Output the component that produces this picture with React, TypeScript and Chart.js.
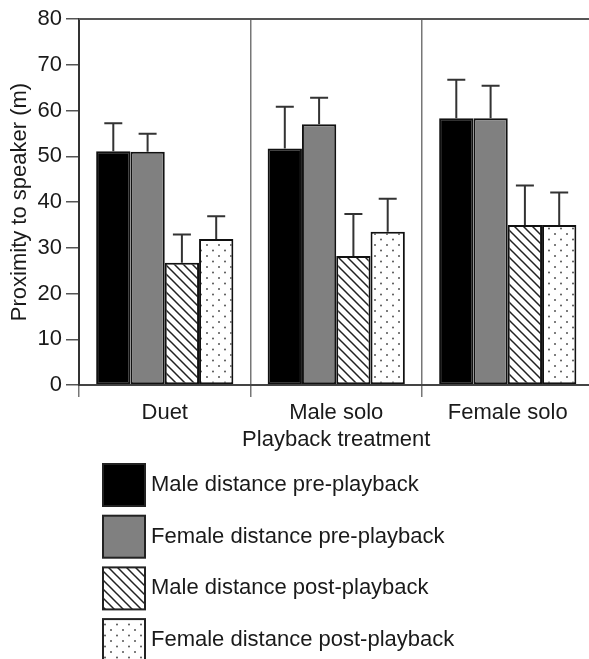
import React, { useEffect, useRef } from "react";
import { Chart, registerables } from "chart.js";

Chart.register(...registerables);

// ---- Data ----
const categories = ["Duet", "Male solo", "Female solo"];
const seriesLabels = [
  "Male distance pre-playback",
  "Female distance pre-playback",
  "Male distance post-playback",
  "Female distance post-playback",
];
const malePre = [51.1, 51.7, 58.3];
const femalePre = [51.0, 57.0, 58.3];
const malePost = [26.7, 28.2, 35.0];
const femalePost = [31.9, 33.5, 35.0];
const malePreErr = [6.1, 9.1, 8.4];
const femalePreErr = [3.9, 5.8, 7.1];
const malePostErr = [6.2, 9.2, 8.6];
const femalePostErr = [5.0, 7.2, 7.1];
const yMin = 0;
const yMax = 80;
const yStep = 10;
const xTitle = "Playback treatment";
const yTitle = "Proximity to speaker (m)";

const FONT = "'Liberation Sans', Arial, Helvetica, sans-serif";

function makeHatch(): CanvasPattern | string {
  const s = 9;
  const c = document.createElement("canvas");
  c.width = s;
  c.height = s;
  const g = c.getContext("2d");
  if (!g) return "#fff";
  g.fillStyle = "#fff";
  g.fillRect(0, 0, s, s);
  g.strokeStyle = "#222";
  g.lineWidth = 1.5;
  g.beginPath();
  g.moveTo(-s, -s);
  g.lineTo(2 * s, 2 * s);
  g.moveTo(-s, 0);
  g.lineTo(s, 2 * s);
  g.moveTo(0, -s);
  g.lineTo(2 * s, s);
  g.stroke();
  return g.createPattern(c, "repeat") || "#fff";
}

function makeDots(): CanvasPattern | string {
  const w = 12;
  const h = 11;
  const c = document.createElement("canvas");
  c.width = w;
  c.height = h;
  const g = c.getContext("2d");
  if (!g) return "#fff";
  g.fillStyle = "#fff";
  g.fillRect(0, 0, w, h);
  g.fillStyle = "#555";
  g.beginPath();
  g.arc(3, 3, 1, 0, Math.PI * 2);
  g.fill();
  g.beginPath();
  g.arc(9, 8.5, 1, 0, Math.PI * 2);
  g.fill();
  return g.createPattern(c, "repeat") || "#fff";
}

const errorBarPlugin = {
  id: "errorBars",
  afterDatasetsDraw(chart: any) {
    const ctx = chart.ctx;
    const yScale = chart.scales.y;
    chart.data.datasets.forEach((ds: any, i: number) => {
      const meta = chart.getDatasetMeta(i);
      meta.data.forEach((bar: any, j: number) => {
        const v = ds.data[j];
        const e = ds.errors[j];
        const top = yScale.getPixelForValue(v + e);
        ctx.save();
        ctx.strokeStyle = "#333";
        ctx.lineWidth = 2;
        ctx.beginPath();
        ctx.moveTo(bar.x, bar.y);
        ctx.lineTo(bar.x, top);
        ctx.moveTo(bar.x - 9, top);
        ctx.lineTo(bar.x + 9, top);
        ctx.stroke();
        ctx.restore();
      });
    });
  },
};

const frameAndLegendPlugin = {
  id: "frameAndLegend",
  afterDraw(chart: any) {
    const ctx = chart.ctx;
    const area = chart.chartArea;
    ctx.save();
    // top frame line
    ctx.strokeStyle = "#555";
    ctx.lineWidth = 2;
    ctx.beginPath();
    ctx.moveTo(area.left, area.top);
    ctx.lineTo(area.right, area.top);
    ctx.stroke();

    // legend
    const boxX = 103;
    const boxY0 = 464;
    const gap = 51.7;
    const size = 42;
    ctx.font = `22px ${FONT}`;
    ctx.textBaseline = "middle";
    ctx.textAlign = "left";
    chart.data.datasets.forEach((ds: any, i: number) => {
      const y = boxY0 + i * gap;
      ctx.fillStyle = ds.backgroundColor;
      ctx.fillRect(boxX, y, size, size);
      ctx.strokeStyle = "#222";
      ctx.lineWidth = 2;
      ctx.strokeRect(boxX, y, size, size);
      ctx.fillStyle = "#1a1a1a";
      ctx.fillText(ds.label, 151, y + size / 2);
    });
    ctx.restore();
  },
};

export default function App() {
  const ref = useRef<HTMLCanvasElement | null>(null);

  useEffect(() => {
    if (!ref.current) return;
    const hatch = makeHatch();
    const dots = makeDots();
    const chart = new Chart(ref.current, {
      type: "bar",
      data: {
        labels: categories,
        datasets: [
          { label: seriesLabels[0], data: malePre, errors: malePreErr, backgroundColor: "#000000" } as any,
          { label: seriesLabels[1], data: femalePre, errors: femalePreErr, backgroundColor: "#808080" } as any,
          { label: seriesLabels[2], data: malePost, errors: malePostErr, backgroundColor: hatch } as any,
          { label: seriesLabels[3], data: femalePost, errors: femalePostErr, backgroundColor: dots } as any,
        ],
      },
      options: {
        animation: false,
        responsive: false,
        devicePixelRatio: 1,
        layout: { padding: { top: 19, right: 6.5, bottom: 204, left: 0 } },
        datasets: {
          bar: {
            categoryPercentage: 0.8,
            barPercentage: 1.0,
            borderColor: "#111",
            borderWidth: 2,
            borderSkipped: false,
          },
        },
        plugins: {
          legend: { display: false },
          tooltip: { enabled: false },
        },
        scales: {
          x: {
            offset: true,
            afterFit(scale: any) {
              scale.height = 70;
            },
            grid: {
              offset: true,
              drawOnChartArea: true,
              drawTicks: true,
              tickLength: 12,
              color: "#777",
              lineWidth: 1.5,
            },
            border: { display: true, color: "#444", width: 2 },
            ticks: {
              color: "#1a1a1a",
              font: { family: FONT, size: 22 },
              padding: 3,
              maxRotation: 0,
            },
            title: {
              display: true,
              text: xTitle,
              color: "#1a1a1a",
              font: { family: FONT, size: 22 },
              padding: { top: 0, bottom: 2 },
            },
          },
          y: {
            min: yMin,
            max: yMax,
            afterFit(scale: any) {
              scale.width = 79;
            },
            ticks: {
              stepSize: yStep,
              color: "#1a1a1a",
              font: { family: FONT, size: 22 },
              padding: 4,
            },
            grid: {
              drawOnChartArea: false,
              drawTicks: true,
              tickLength: 13,
              color: "#555",
              lineWidth: 1.5,
            },
            border: { display: true, color: "#333", width: 2 },
            title: {
              display: true,
              text: yTitle,
              color: "#1a1a1a",
              font: { family: FONT, size: 22 },
              padding: { top: 7, bottom: 0 },
            },
          },
        },
      } as any,
      plugins: [errorBarPlugin, frameAndLegendPlugin],
    });
    return () => chart.destroy();
  }, []);

  return (
    <div
      style={{
        position: "absolute",
        left: 0,
        top: 0,
        width: 589,
        height: 659,
        overflow: "hidden",
        background: "#fff",
      }}
    >
      <canvas ref={ref} width={600} height={659} style={{ width: 600, height: 659, display: "block" }} />
    </div>
  );
}
